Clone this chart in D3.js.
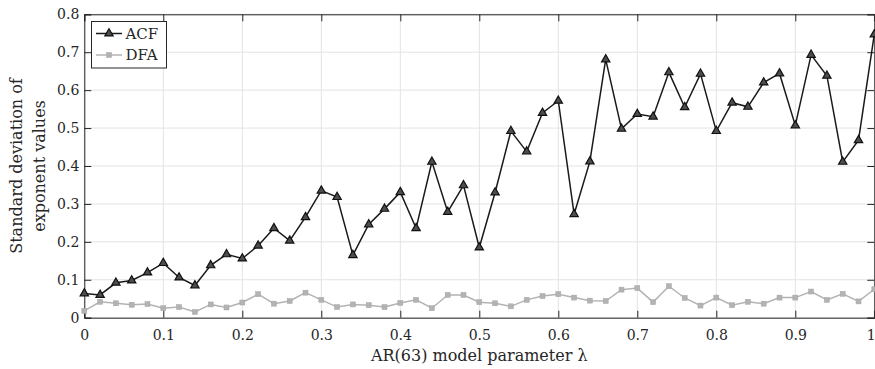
<!DOCTYPE html>
<html>
<head>
<meta charset="utf-8">
<script src="https://cdn.jsdelivr.net/npm/d3@7"></script>
<style>
  html, body { margin: 0; padding: 0; background: #fff; }
  svg { display: block; }
  text { font-family: "DejaVu Serif", "Liberation Serif", serif; fill: #262626; }
</style>
</head>
<body>
<svg id="chart" width="875" height="369"></svg>
<script>
// AR(63) model parameter values (lambda)
const lambda = d3.range(51).map(i => +(i * 0.02).toFixed(2));

// Standard deviation of exponent values, ACF estimator
const acf = [0.064, 0.060, 0.092, 0.098, 0.119, 0.144, 0.106, 0.085, 0.138, 0.167,
             0.156, 0.190, 0.236, 0.203, 0.265, 0.335, 0.318, 0.165, 0.246, 0.287,
             0.331, 0.236, 0.411, 0.279, 0.349, 0.185, 0.330, 0.492, 0.438, 0.540,
             0.572, 0.273, 0.412, 0.681, 0.498, 0.537, 0.530, 0.647, 0.555, 0.643,
             0.492, 0.567, 0.556, 0.620, 0.644, 0.507, 0.693, 0.638, 0.411, 0.468,
             0.747];

// Standard deviation of exponent values, DFA estimator
const dfa = [0.018, 0.042, 0.038, 0.034, 0.036, 0.025, 0.028, 0.015, 0.035, 0.027,
             0.040, 0.062, 0.037, 0.044, 0.066, 0.047, 0.028, 0.035, 0.033, 0.028,
             0.039, 0.047, 0.025, 0.060, 0.060, 0.041, 0.038, 0.030, 0.047, 0.057,
             0.062, 0.053, 0.045, 0.044, 0.074, 0.078, 0.041, 0.083, 0.052, 0.032,
             0.053, 0.033, 0.042, 0.037, 0.053, 0.053, 0.069, 0.047, 0.063, 0.043,
             0.075];

const xTicks = [0, 0.1, 0.2, 0.3, 0.4, 0.5, 0.6, 0.7, 0.8, 0.9, 1];
const xTickLabels = ["0", "0.1", "0.2", "0.3", "0.4", "0.5", "0.6", "0.7", "0.8", "0.9", "1"];
const yTicks = [0, 0.1, 0.2, 0.3, 0.4, 0.5, 0.6, 0.7, 0.8];
const yTickLabels = ["0", "0.1", "0.2", "0.3", "0.4", "0.5", "0.6", "0.7", "0.8"];

const seriesNames = ["ACF", "DFA"];

const svg = d3.select("#chart");
const margin = { left: 84.3, right: 0.7, top: 14.3, bottom: 51.3 };
const W = 875, H = 369;
const iw = W - margin.left - margin.right;
const ih = H - margin.top - margin.bottom;

const x = d3.scaleLinear().domain([0, 1]).range([margin.left, margin.left + iw]);
const y = d3.scaleLinear().domain([0, 0.8]).range([margin.top + ih, margin.top]);

// grid
const grid = svg.append("g");
grid.selectAll("line.gx").data(xTicks).join("line")
  .attr("x1", d => x(d)).attr("x2", d => x(d))
  .attr("y1", y(0)).attr("y2", y(0.8))
  .attr("stroke", "#e3e3e3").attr("stroke-width", 1);
grid.selectAll("line.gy").data(yTicks).join("line")
  .attr("x1", x(0)).attr("x2", x(1))
  .attr("y1", d => y(d)).attr("y2", d => y(d))
  .attr("stroke", "#e3e3e3").attr("stroke-width", 1);

// axes with inward ticks
const tickLen = 7;
const axB = svg.append("g").attr("transform", `translate(0,${y(0)})`)
  .call(d3.axisBottom(x).tickValues(xTicks).tickSize(-tickLen).tickPadding(12)
    .tickFormat((d, i) => xTickLabels[i]));
const axT = svg.append("g").attr("transform", `translate(0,${y(0.8)})`)
  .call(d3.axisTop(x).tickValues(xTicks).tickSize(-tickLen).tickFormat(""));
const axL = svg.append("g").attr("transform", `translate(${x(0)},0)`)
  .call(d3.axisLeft(y).tickValues(yTicks).tickSize(-tickLen).tickPadding(5)
    .tickFormat((d, i) => yTickLabels[i]));
const axR = svg.append("g").attr("transform", `translate(${x(1)},0)`)
  .call(d3.axisRight(y).tickValues(yTicks).tickSize(-tickLen).tickFormat(""));

[axB, axT, axL, axR].forEach(a => {
  a.select(".domain").attr("stroke", "#262626").attr("stroke-width", 1);
  a.selectAll(".tick line").attr("stroke", "#262626").attr("stroke-width", 1);
  a.selectAll(".tick text").attr("font-family", "DejaVu Serif, serif")
    .attr("font-size", 14).attr("fill", "#262626");
});
axB.selectAll(".tick text").attr("dy", "0.71em");
// keep the last x tick label inside the canvas edge
axB.selectAll(".tick text").filter(d => d === 1).attr("text-anchor", "end").attr("x", 0.8);

// series lines
const line = d3.line().x((d, i) => x(lambda[i])).y(d => y(d));

svg.append("path").datum(dfa).attr("d", line)
  .attr("fill", "none").attr("stroke", "#b3b3b3").attr("stroke-width", 1.5);
svg.selectAll("rect.dfa").data(dfa).join("rect").attr("class", "dfa")
  .attr("x", (d, i) => x(lambda[i]) - 2.5).attr("y", d => y(d) - 2.5)
  .attr("width", 5).attr("height", 5)
  .attr("fill", "#b3b3b3").attr("stroke", "#a6a6a6").attr("stroke-width", 0.5);

svg.append("path").datum(acf).attr("d", line)
  .attr("fill", "none").attr("stroke", "#1a1a1a").attr("stroke-width", 1.5);
const tri = d3.symbol().type(d3.symbolTriangle).size(30);
svg.selectAll("path.acf").data(acf).join("path").attr("class", "acf")
  .attr("d", tri)
  .attr("transform", (d, i) => `translate(${x(lambda[i])},${y(d)})`)
  .attr("fill", "#4d4d4d").attr("stroke", "#111").attr("stroke-width", 1.2);

// legend
const lg = svg.append("g");
lg.append("rect").attr("x", 91.5).attr("y", 21.5).attr("width", 75).attr("height", 46.5)
  .attr("fill", "#fff").attr("stroke", "#262626").attr("stroke-width", 1);
const rows = [
  { name: seriesNames[0], cy: 33.5, color: "#1a1a1a" },
  { name: seriesNames[1], cy: 55, color: "#b3b3b3" }
];
rows.forEach((r, k) => {
  lg.append("line").attr("x1", 96).attr("x2", 122).attr("y1", r.cy).attr("y2", r.cy)
    .attr("stroke", r.color).attr("stroke-width", 1.5);
  if (k === 0) {
    lg.append("path").attr("d", tri).attr("transform", `translate(109,${r.cy})`)
      .attr("fill", "#4d4d4d").attr("stroke", "#111").attr("stroke-width", 1.2);
  } else {
    lg.append("rect").attr("x", 106.5).attr("y", r.cy - 2.5).attr("width", 5).attr("height", 5)
      .attr("fill", "#b3b3b3").attr("stroke", "#a6a6a6").attr("stroke-width", 0.5);
  }
  lg.append("text").attr("x", 125.5).attr("y", r.cy).attr("dy", "0.35em")
    .attr("font-size", 15).text(r.name);
});

// axis titles
svg.append("text").attr("x", x(0.5)).attr("y", 361)
  .attr("text-anchor", "middle").attr("font-size", 16)
  .text("AR(63) model parameter λ");

const yl = svg.append("text").attr("transform", `translate(0,${(y(0) + y(0.8)) / 2}) rotate(-90)`)
  .attr("text-anchor", "middle").attr("font-size", 16);
yl.append("tspan").attr("x", 0).attr("y", 22).text("Standard deviation of");
yl.append("tspan").attr("x", 0).attr("y", 45).text("exponent values");
</script>
</body>
</html>
